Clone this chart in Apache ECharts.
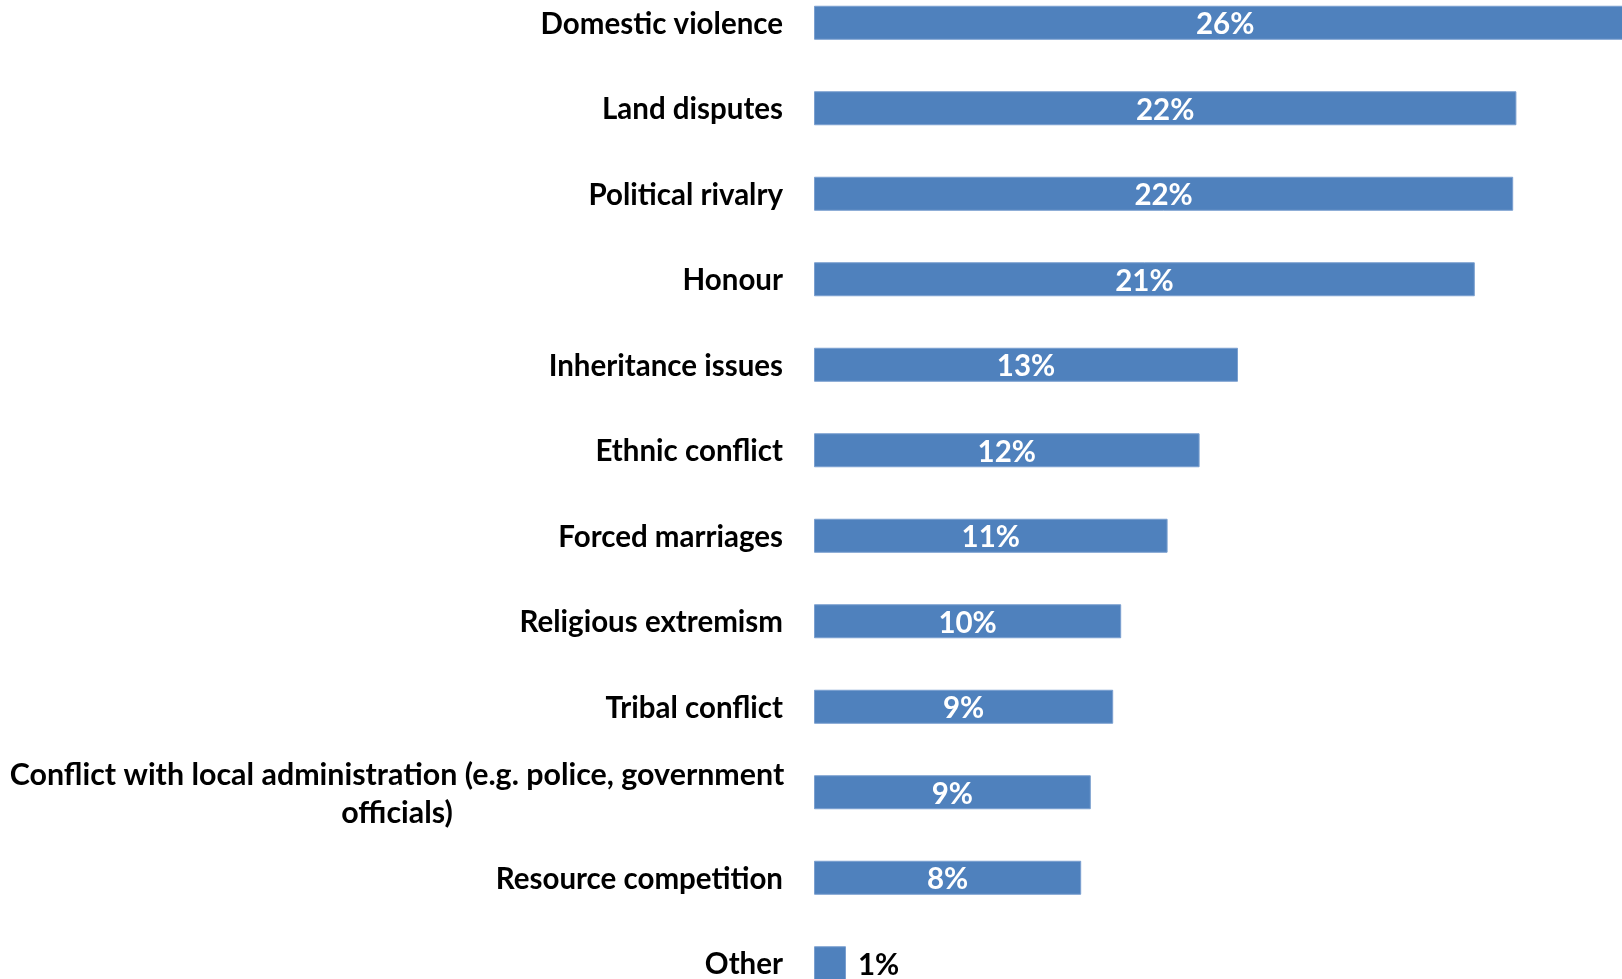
<!DOCTYPE html>
<html>
<head>
<meta charset="utf-8">
<script src="https://cdn.jsdelivr.net/npm/echarts@6/dist/echarts.min.js"></script>
<style>
html,body{margin:0;padding:0;background:#fff;}
#chart{width:1622px;height:979px;}
</style>
</head>
<body>
<div id="chart"></div>
<script>
const categories = [
  'Domestic violence',
  'Land disputes',
  'Political rivalry',
  'Honour',
  'Inheritance issues',
  'Ethnic conflict',
  'Forced marriages',
  'Religious extremism',
  'Tribal conflict',
  'Conflict with local administration (e.g. police, government\nofficials)',
  'Resource competition',
  'Other'
];
const values = [25.7, 21.95, 21.85, 20.65, 13.25, 12.05, 11.05, 9.6, 9.35, 8.65, 8.35, 1.0];

const chart = echarts.init(document.getElementById('chart'));
const FONT = 'Lato';
const FS = 29.5;
chart.setOption({
  backgroundColor: '#ffffff',
  animation: false,
  grid: { left: 814, top: -20, width: 960, height: 1026, outerBoundsMode: 'none', containLabel: false },
  xAxis: { type: 'value', min: 0, max: 30, show: false },
  yAxis: {
    type: 'category',
    data: categories,
    inverse: true,
    axisLine: { show: false },
    axisTick: { show: false },
    splitLine: { show: false },
    axisLabel: {
      margin: 31,
      color: '#000',
      fontFamily: FONT,
      fontWeight: 'bold',
      fontSize: FS,
      lineHeight: 38,
      padding: [3, 0, 0, 0],
      formatter: function (v) {
        if (v.indexOf('\n') >= 0) {
          return v.split('\n').map(function (s) { return '{c|' + s + '}'; }).join('\n');
        }
        return v;
      },
      rich: {
        c: { width: 772, align: 'center', fontFamily: FONT, fontWeight: 'bold', fontSize: 30.4, lineHeight: 38, color: '#000' }
      }
    }
  },
  series: [{
    type: 'bar',
    barWidth: 34,
    data: values.map(function (v) {
      const small = v < 2;
      return {
        value: v,
        label: small ? { position: 'right', color: '#000', distance: 12 } : { position: 'inside', color: '#fff' }
      };
    }),
    itemStyle: { color: '#4F81BD', borderColor: '#7A9FCF', borderWidth: 1 },
    label: {
      show: true,
      fontFamily: FONT,
      fontWeight: 'bold',
      fontSize: FS,
      offset: [0, 2],
      formatter: function (p) { return Math.round(p.value) + '%'; }
    }
  }]
});
</script>
</body>
</html>
